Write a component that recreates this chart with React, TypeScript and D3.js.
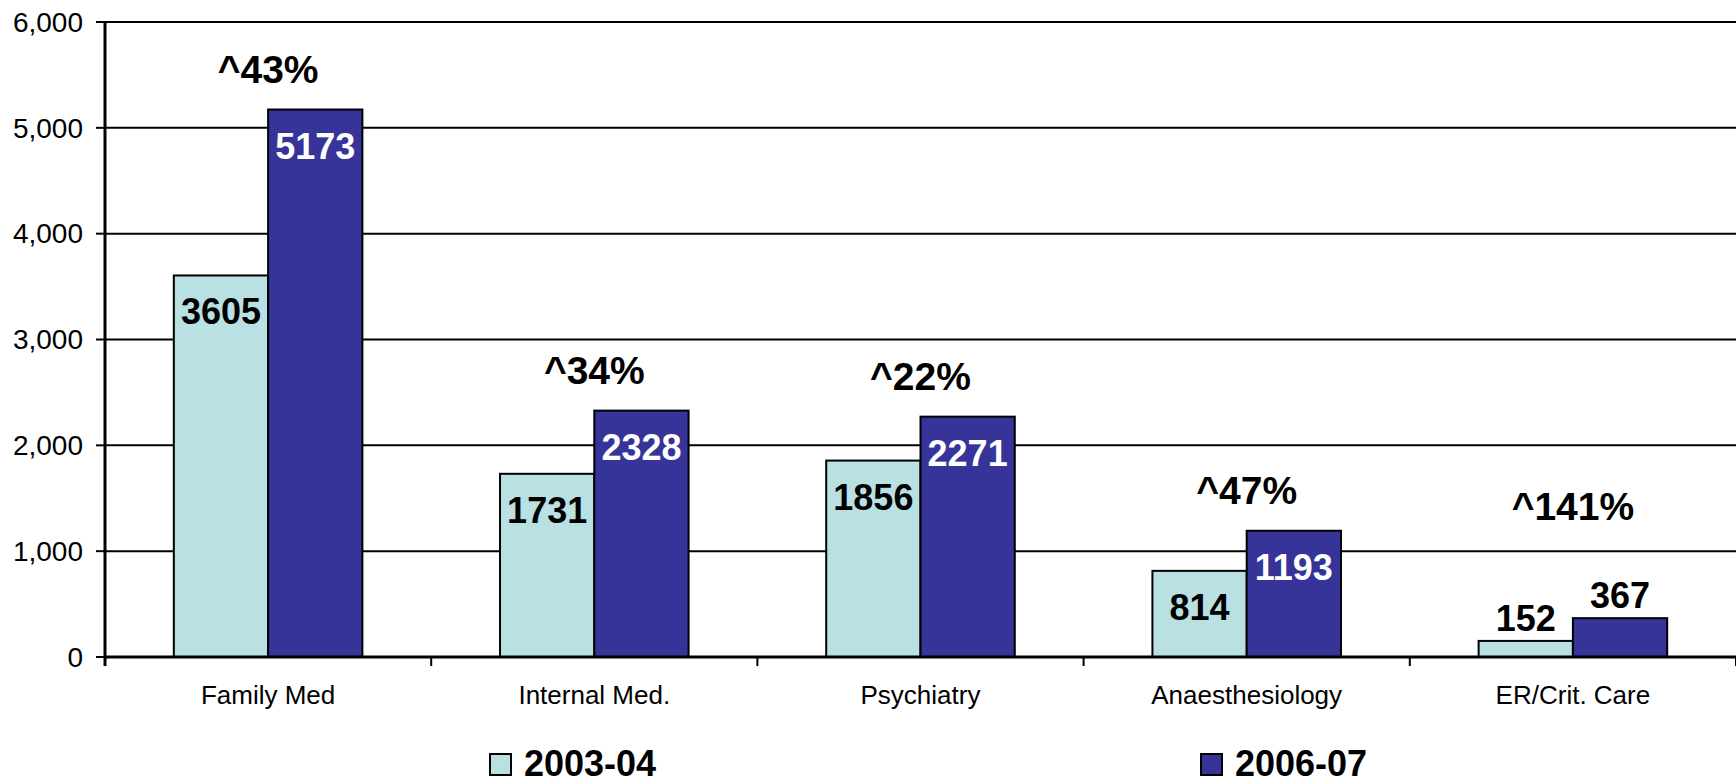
import * as d3 from "d3";

const categories = ["Family Med", "Internal Med.", "Psychiatry", "Anaesthesiology", "ER/Crit. Care"];
const seriesNames = ["2003-04", "2006-07"];
const values2003 = [3605, 1731, 1856, 814, 152];
const values2006 = [5173, 2328, 2271, 1193, 367];
const growthLabels = ["^43%", "^34%", "^22%", "^47%", "^141%"];
const yTicks = [0, 1000, 2000, 3000, 4000, 5000, 6000];

const colors = ["#B9E0E3", "#363399"];
const font = "'Liberation Sans', Arial, sans-serif";

export default function App() {
  const width = 1736, height = 780;
  const left = 105, right = 1736, top = 22, bottom = 657;

  const x0 = d3.scaleBand().domain(categories).range([left, right]).paddingInner(0).paddingOuter(0);
  const x1 = d3.scaleBand().domain(seriesNames).range([0, x0.bandwidth()]).paddingInner(0).paddingOuter(0.73);
  const y = d3.scaleLinear().domain([0, 6000]).range([bottom, top]);
  const fmt = d3.format(",");

  const series = [values2003, values2006];

  return (
    <svg width={width} height={height} style={{ position: "absolute", left: 0, top: 0, background: "#fff" }} fontFamily={font}>
      {/* gridlines */}
      {yTicks.filter((t) => t > 0).map((t) => (
        <line key={t} x1={left} x2={right} y1={y(t)} y2={y(t)} stroke="#000" strokeWidth={2} />
      ))}
      {/* y tick marks + labels */}
      {yTicks.map((t) => (
        <g key={"yt" + t}>
          <line x1={left - 9} x2={left} y1={y(t)} y2={y(t)} stroke="#000" strokeWidth={2} />
          <text x={left - 22} y={y(t)} dy="0.35em" textAnchor="end" fontSize={28}>{fmt(t)}</text>
        </g>
      ))}
      {/* bars */}
      {categories.map((c, i) => {
        const cx = x0(c)!;
        return (
          <g key={c}>
            {series.map((vals, s) => {
              const v = vals[i];
              const bx = cx + x1(seriesNames[s])!;
              const bw = x1.bandwidth();
              const h = bottom - y(v);
              const inside = h > 50;
              return (
                <g key={s}>
                  <rect x={bx} y={y(v)} width={bw} height={h} fill={colors[s]} stroke="#000" strokeWidth={2} />
                  <text x={bx + bw / 2} y={inside ? y(v) + 49 : y(v) - 10} textAnchor="middle" fontSize={36} fontWeight="bold"
                    fill={inside && s === 1 ? "#fff" : "#000"}>{v}</text>
                </g>
              );
            })}
          </g>
        );
      })}
      {/* growth labels */}
      {categories.map((c, i) => {
        const v = Math.max(values2003[i], values2006[i]);
        const h = bottom - y(v);
        const baseY = h > 50 ? y(v) - 27 : y(v) - 98;
        return (
          <text key={"g" + c} x={x0(c)! + x0.bandwidth() / 2} y={baseY} textAnchor="middle" fontSize={39} fontWeight="bold">{growthLabels[i]}</text>
        );
      })}
      {/* axes */}
      <line x1={left} x2={left} y1={top} y2={bottom + 9} stroke="#000" strokeWidth={3} />
      <line x1={left} x2={right} y1={bottom} y2={bottom} stroke="#000" strokeWidth={3} />
      {categories.map((c) => (
        <line key={"xt" + c} x1={x0(c)! + x0.bandwidth()} x2={x0(c)! + x0.bandwidth()} y1={bottom} y2={bottom + 9} stroke="#000" strokeWidth={2} />
      ))}
      {categories.map((c) => (
        <text key={"xl" + c} x={x0(c)! + x0.bandwidth() / 2} y={704} textAnchor="middle" fontSize={26}>{c}</text>
      ))}
      {/* legend */}
      {seriesNames.map((s, i) => {
        const lx = [490, 1201][i];
        return (
          <g key={"lg" + s}>
            <rect x={lx} y={754} width={21} height={21} fill={colors[i]} stroke="#000" strokeWidth={2} />
            <text x={lx + 34} y={776} fontSize={36} fontWeight="bold">{s}</text>
          </g>
        );
      })}
    </svg>
  );
}
